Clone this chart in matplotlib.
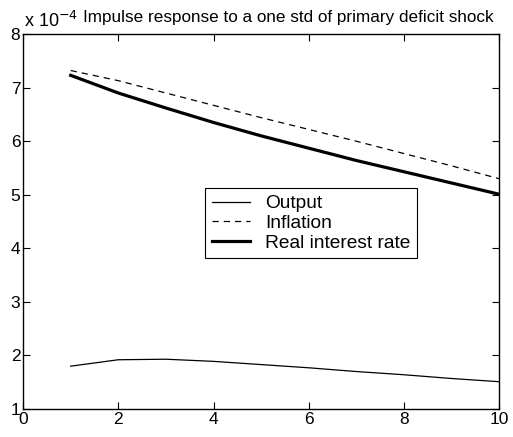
import matplotlib.pyplot as plt
import numpy as np

plt.rcParams['font.family'] = ['Liberation Sans', 'DejaVu Sans']

# impulse responses, in units of 1e-4
periods = np.arange(1, 11)
output = [1.80, 1.92, 1.93, 1.89, 1.83, 1.77, 1.70, 1.64, 1.57, 1.51]
inflation = [7.32, 7.13, 6.90, 6.67, 6.44, 6.22, 6.00, 5.77, 5.54, 5.30]
real_rate = [7.23, 6.90, 6.62, 6.35, 6.10, 5.87, 5.64, 5.43, 5.22, 5.01]

fig = plt.figure(figsize=(5.13, 4.37), dpi=100)
ax = fig.add_axes([0.045, 0.064, 0.928, 0.858])

ax.plot(periods, output, color='black', lw=0.9, label='Output')
ax.plot(periods, inflation, color='black', lw=0.9, ls=(0, (5, 4)), label='Inflation')
ax.plot(periods, real_rate, color='black', lw=2.3, label='Real interest rate')

ax.set_xlim(0, 10)
ax.set_ylim(1, 8)
ax.set_xticks([0, 2, 4, 6, 8, 10])
ax.set_yticks(range(1, 9))
ax.tick_params(direction='in', length=5, labelsize=12.5, top=True, right=True, pad=2)
for s in ax.spines.values():
    s.set_linewidth(1.0)

ax.text(0.002, 1.008, 'x 10$^{-4}$', transform=ax.transAxes, fontsize=13, va='bottom', ha='left')
ax.text(0.126, 1.033, 'Impulse response to a one std of primary deficit shock',
        transform=ax.transAxes, fontsize=12.3, va='baseline', ha='left')

leg = ax.legend(loc='upper left', bbox_to_anchor=(0.382, 0.589), fontsize=13.8,
                frameon=True, fancybox=False, edgecolor='black', framealpha=1,
                borderpad=0.35, labelspacing=0.12, handlelength=2.0, handletextpad=0.8,
                borderaxespad=0)
leg.get_frame().set_linewidth(0.8)

fig.savefig('out.png', dpi=100)
